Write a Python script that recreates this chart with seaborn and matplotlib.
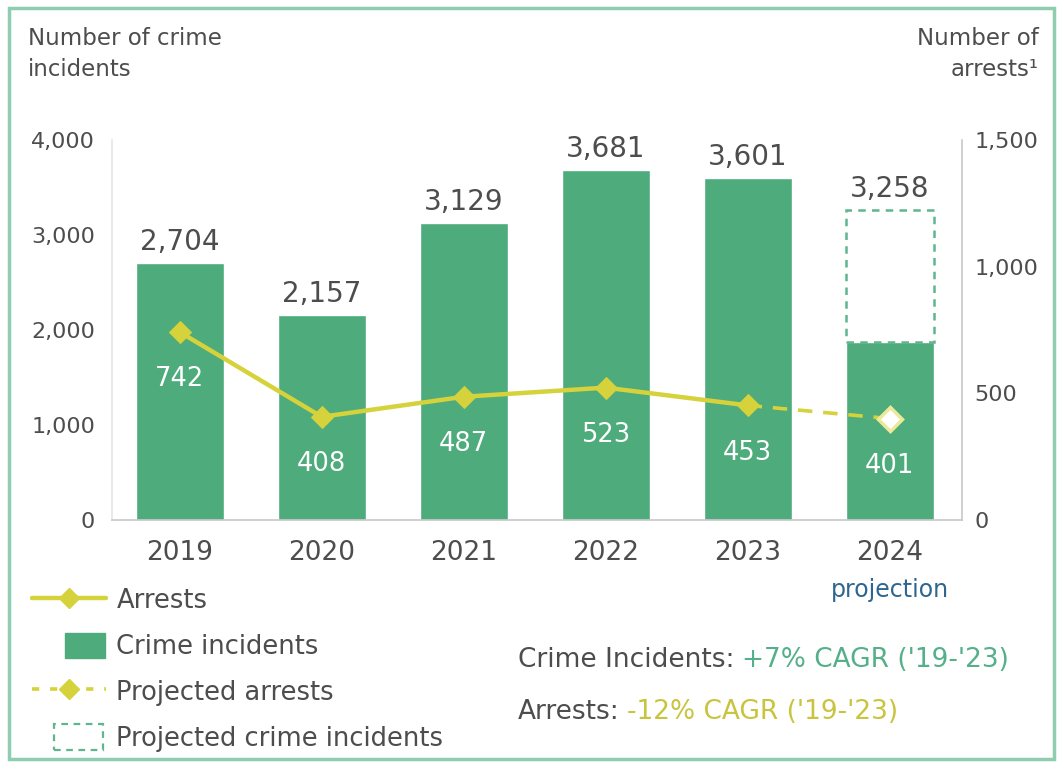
import matplotlib
matplotlib.use("Agg")
import matplotlib.pyplot as plt
from matplotlib.lines import Line2D
from matplotlib.patches import Patch, Rectangle
from matplotlib.legend_handler import HandlerPatch
import numpy as np
import pandas as pd
import seaborn as sns

# ---- data ----
years = ["2019", "2020", "2021", "2022", "2023", "2024"]
incidents = [2704, 2157, 3129, 3681, 3601, 1870]      # 2024: year-to-date actuals
incidents_projected_2024 = 3258
incident_labels = [2704, 2157, 3129, 3681, 3601, 3258]
arrests = [742, 408, 487, 523, 453]                    # 2019-2023
arrests_projected_2024 = 401
left_ticks = [0, 1000, 2000, 3000, 4000]
right_ticks = [0, 500, 1000, 1500]

GREEN = "#4dab7c"
DASH_GREEN = "#5fb58d"
YELLOW = "#d5d23c"
GREY = "#4d4d4d"
AXIS_GREY = "#c8c8c8"

sns.set_theme(style="white")
plt.rcParams["font.family"] = ["DejaVu Sans"]

fig = plt.figure(figsize=(10.63, 7.64), dpi=100)
ax = fig.add_axes([0.105, 0.319, 0.800, 0.498])

df = pd.DataFrame({"year": years, "incidents": incidents})
sns.barplot(data=df, x="year", y="incidents", color=GREEN, width=0.62,
            saturation=1, ax=ax, zorder=2)

# projected remainder of 2024 as a dashed outline box
last = len(years) - 1
ax.bar(last, incidents_projected_2024 - incidents[last], bottom=incidents[last],
       width=0.62, fill=False, edgecolor=DASH_GREEN, linestyle=(0, (3, 2.5)),
       linewidth=1.8, zorder=2)

ax.set_xlim(-0.48, 5.51)
ax.set_ylim(0, 4000)
ax.set_yticks(left_ticks)
ax.set_yticklabels([f"{v:,}" for v in left_ticks], fontsize=16, color=GREY)
ax.set_xticks(range(len(years)))
ax.set_xticklabels(years, fontsize=19, color=GREY)
ax.tick_params(axis="x", length=0, pad=14)
ax.tick_params(axis="y", length=0, pad=12)
ax.set_xlabel("")
ax.set_ylabel("")
for side in ["top", "right"]:
    ax.spines[side].set_visible(False)
ax.spines["left"].set_color("#e6e6e6")
ax.spines["bottom"].set_color(AXIS_GREY)
ax.spines["bottom"].set_linewidth(1.2)

for i, v in enumerate(incident_labels):
    top = incidents_projected_2024 if i == last else incidents[i]
    ax.annotate(f"{v:,}", (i, top), xytext=(0, 5), textcoords="offset points",
                ha="center", va="bottom", fontsize=20, color=GREY,
                annotation_clip=False)

# ---- arrests on the secondary axis ----
ax2 = ax.twinx()
ax2.set_ylim(0, 1500)
ax2.set_yticks(right_ticks)
ax2.set_yticklabels([f"{v:,}" for v in right_ticks], fontsize=16, color=GREY)
ax2.tick_params(axis="y", length=0, pad=9)
for side in ["top", "left", "bottom"]:
    ax2.spines[side].set_visible(False)
ax2.spines["right"].set_color(AXIS_GREY)
ax2.spines["right"].set_linewidth(1.2)
ax2.grid(False)
ax.grid(False)

xs = np.arange(len(arrests))
sns.lineplot(x=xs, y=arrests, ax=ax2, color=YELLOW, linewidth=3.2,
             marker="D", markersize=11, markeredgecolor=YELLOW, zorder=4)
ax2.plot([xs[-1], last], [arrests[-1], arrests_projected_2024], color=YELLOW,
         linewidth=2.6, linestyle=(0, (4, 3)), zorder=3)
ax2.plot([last], [arrests_projected_2024], marker="D", markersize=12,
         markerfacecolor="white", markeredgecolor="#ecea9a",
         markeredgewidth=2.5, zorder=5)

all_arrests = arrests + [arrests_projected_2024]
for i, v in enumerate(all_arrests):
    ax2.annotate(f"{v}", (i, v), xytext=(0, -34), textcoords="offset points",
                 ha="center", va="center", fontsize=18.5, color="white", zorder=6)

ax2.set_xlim(-0.48, 5.51)

# ---- axis titles ----
fig.text(0.026, 0.965, "Number of crime\nincidents", ha="left", va="top",
         fontsize=16.5, color=GREY, linespacing=1.45)
fig.text(0.977, 0.965, "Number of\narrests\u00b9", ha="right", va="top",
         fontsize=16.5, color=GREY, linespacing=1.45)

ax.text(last, -0.184, "projection", transform=ax.get_xaxis_transform(),
        ha="center", va="center", fontsize=17, color="#2e6690")

# ---- legend ----
def box_handle(w_frac, h_frac, x_shift):
    def make(legend, orig_handle, xdescent, ydescent, width, height, fontsize):
        w, h = width * w_frac, height * h_frac
        x0 = -xdescent + width * x_shift - w / 2
        y0 = -ydescent + (height - h) / 2
        return Rectangle((x0, y0), w, h)
    return HandlerPatch(patch_func=make)

h_arrests = Line2D([], [], color=YELLOW, linewidth=3.2, marker="D", markersize=10)
h_incidents = Patch(facecolor=GREEN, edgecolor=GREEN)
h_proj_arrests = Line2D([], [], color=YELLOW, linewidth=2.6,
                        linestyle=(0, (2, 3)), marker="D", markersize=10)
h_proj_incidents = Patch(facecolor="none", edgecolor=DASH_GREEN,
                         linestyle=(0, (3, 2.5)), linewidth=1.6)
handles = [h_arrests, h_incidents, h_proj_arrests, h_proj_incidents]
labels = ["Arrests", "Crime incidents", "Projected arrests",
          "Projected crime incidents"]
fig.legend(handles, labels, loc="upper left", bbox_to_anchor=(0.008, 0.262),
           frameon=False, fontsize=18.5, handlelength=2.9, handleheight=1.15,
           labelspacing=0.71, handletextpad=0.4, labelcolor=GREY,
           handler_map={h_incidents: box_handle(0.54, 1.0, 0.72),
                        h_proj_incidents: box_handle(0.66, 1.0, 0.63)})

# ---- CAGR notes ----
def note(y, head, tail, tail_color):
    t = fig.text(0.487, y, head, fontsize=19, color=GREY, va="center")
    fig.canvas.draw()
    bb = t.get_window_extent()
    x2 = bb.x1 / fig.bbox.width
    fig.text(x2 + 0.007, y, tail, fontsize=19, color=tail_color, va="center")

note(0.136, "Crime Incidents:", "+7% CAGR ('19-'23)", "#55b08a")
note(0.068, "Arrests:", "-12% CAGR ('19-'23)", "#c9c43e")

# ---- outer frame ----
fig.patches.append(Rectangle((0.008, 0.006), 0.984, 0.984,
                             transform=fig.transFigure, fill=False,
                             edgecolor="#8ecdb0", linewidth=2.5))

fig.savefig("out.png", dpi=100)
